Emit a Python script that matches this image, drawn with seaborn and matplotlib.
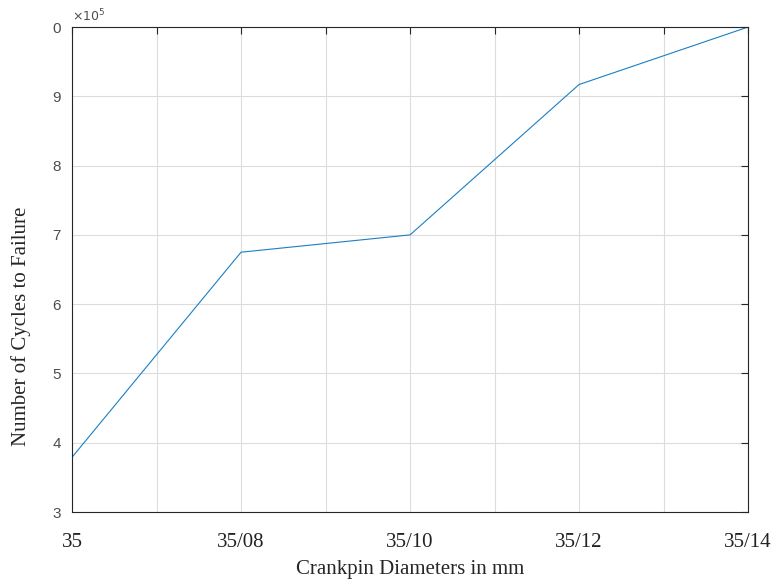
import pandas as pd
import matplotlib.pyplot as plt
import seaborn as sns

# dados
diametros = ['35', '35/08', '35/10', '35/12', '35/14']
posicoes = [0, 2, 4, 6, 8]
ciclos = [3.79e5, 6.75e5, 7.0e5, 9.17e5, 10.0e5]

df = pd.DataFrame({'pos': posicoes, 'ciclos': ciclos})

sns.set_style('white')

fig = plt.figure(figsize=(7.72, 5.8), dpi=100)
ax = fig.add_axes([0.0933, 0.1172, 0.8757, 0.8362])

sns.lineplot(data=df, x='pos', y='ciclos', color='#1a7fc4', linewidth=0.8, ax=ax)

ax.set_xlim(0, 8)
ax.set_ylim(3e5, 10e5)

ax.set_xticks(range(9))
xlabels = []
for i in range(9):
    xlabels.append(diametros[i // 2] if i % 2 == 0 else '')
ax.set_xticklabels(xlabels, fontfamily='Liberation Serif', fontsize=15, color='#222222')

yticks = [3e5, 4e5, 5e5, 6e5, 7e5, 8e5, 9e5, 10e5]
ax.set_yticks(yticks)
ax.set_yticklabels(['3', '4', '5', '6', '7', '8', '9', '0'],
                   fontfamily='Liberation Sans', fontsize=11, color='#4d4d4d')

ax.grid(True, color='#dcdcdc', linewidth=0.8)
ax.tick_params(direction='in', length=5, color='#262626', top=True, right=True,
               labeltop=False, labelright=False)
ax.tick_params(axis='x', pad=15)
ax.tick_params(axis='y', pad=8)
for s in ax.spines.values():
    s.set_color('#262626')
    s.set_linewidth(0.8)

ax.text(0.0, 1.005, r'$\times 10^5$', transform=ax.transAxes, fontsize=9,
        color='#4d4d4d', ha='left', va='bottom')

ax.set_xlabel('Crankpin Diameters in mm', fontfamily='Liberation Serif',
              fontsize=15, labelpad=6)
ax.set_ylabel('Number of Cycles to Failure', fontfamily='Liberation Serif',
              fontsize=15)
ax.yaxis.set_label_coords(-0.060, 0.383)

fig.savefig('out.png', dpi=100)
